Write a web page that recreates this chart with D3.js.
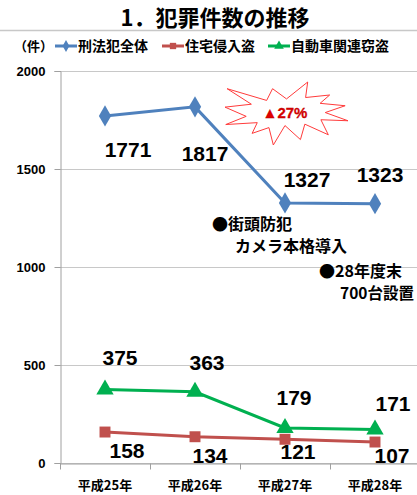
<!DOCTYPE html>
<html>
<head>
<meta charset="utf-8">
<script src="https://cdn.jsdelivr.net/npm/d3@7"></script>
<style>
  body { margin: 0; background: #fff; }
  svg { display: block; }
  text { font-family: "Noto Sans CJK JP", sans-serif; font-weight: bold; }
  .num { font-family: "Liberation Sans", Arial, sans-serif; font-weight: bold; }
</style>
</head>
<body>
<div id="chart"></div>
<script>
const years = ["平成25年", "平成26年", "平成27年", "平成28年"];
const seriesNames = ["刑法犯全体", "住宅侵入盗", "自動車関連窃盗"];
const totalCrime = [1771, 1817, 1327, 1323];
const burglary = [158, 134, 121, 107];
const carTheft = [375, 363, 179, 171];
const yTicks = [0, 500, 1000, 1500, 2000];

const size = { width: 417, height: 495, left: 60, right: 420, top: 71, bottom: 463 };

const colours = { blue: "#4F81BD", red: "#C0504D", green: "#00B050" };

// label offsets from each point (centre x, baseline y)
const labelOffsets = {
  total: [[23, 41], [10, 54], [22, -16], [5, -22]],
  burglary: [[22, 26], [15, 26], [13, 20], [17, 21]],
  car: [[15, -25], [12, -22], [9, -23], [18, -18]]
};

const x = d3.scaleBand().domain(years).range([size.left, size.right]);
const y = d3.scaleLinear().domain([0, 2000]).range([size.bottom, size.top]);
const cx = d => x(d) + x.bandwidth() / 2;

const svg = d3.select("#chart").append("svg")
  .attr("width", size.width)
  .attr("height", size.height);

// title
svg.append("text")
  .attr("x", 215).attr("y", 26)
  .attr("text-anchor", "middle")
  .style("font-size", "22px")
  .text("1．犯罪件数の推移");
svg.append("line")
  .attr("x1", 0).attr("x2", size.width)
  .attr("y1", 30.5).attr("y2", 30.5)
  .attr("stroke", "#c8c8c8").attr("stroke-width", 1.5);

// gridlines
svg.append("g").selectAll("line").data(yTicks).join("line")
  .attr("x1", size.left).attr("x2", size.width)
  .attr("y1", d => Math.round(y(d)) + 0.5).attr("y2", d => Math.round(y(d)) + 0.5)
  .attr("stroke", "#c8c8c8");

// y axis
const yAxis = svg.append("g")
  .attr("transform", `translate(${size.left + 0.5},0)`)
  .call(d3.axisLeft(y).tickValues(yTicks).tickSize(6).tickPadding(9).tickFormat(d3.format("d")));
yAxis.select(".domain").attr("stroke", "#a0a0a0");
yAxis.selectAll(".tick line").attr("stroke", "#a0a0a0");
yAxis.selectAll("text").attr("class", "num").style("font-size", "13px").attr("fill", "#000");

// x axis
const xAxis = svg.append("g")
  .attr("transform", `translate(0,${Math.round(size.bottom) + 0.5})`)
  .call(d3.axisBottom(x).tickSize(0).tickPadding(17));
xAxis.select(".domain").attr("stroke", "#a0a0a0");
xAxis.selectAll("text").style("font-size", "13px").attr("fill", "#000");
xAxis.selectAll("line.edge").data(years.map(d => x(d)).concat([size.right])).join("line")
  .attr("class", "edge")
  .attr("x1", d => d + 0.5).attr("x2", d => d + 0.5)
  .attr("y1", 0).attr("y2", 6)
  .attr("stroke", "#a0a0a0");

// legend
svg.append("text").attr("x", 14).attr("y", 51).style("font-size", "13px").text("（件）");
const legendItems = [
  { name: seriesNames[0], colour: colours.blue, shape: d3.symbolDiamond, x: 55 },
  { name: seriesNames[1], colour: colours.red, shape: d3.symbolSquare, x: 162 },
  { name: seriesNames[2], colour: colours.green, shape: d3.symbolTriangle, x: 268 }
];
const lg = svg.append("g").selectAll("g").data(legendItems).join("g")
  .attr("transform", d => `translate(${d.x},46)`);
lg.append("line").attr("x1", 0).attr("x2", 22)
  .attr("stroke", d => d.colour).attr("stroke-width", 3);
lg.append("path").attr("transform", "translate(11,0)")
  .attr("d", d => d3.symbol(d.shape, 40)())
  .attr("fill", d => d.colour);
lg.append("text").attr("x", 23).attr("y", 5).style("font-size", "14px").text(d => d.name);

// starburst (Excel "explosion" shape)
const sealPts = [[10800,5800],[14522,0],[14155,5325],[18380,4457],[16702,7315],[21097,8137],[17607,10475],[21600,13290],[16837,12942],[18145,18095],[14020,14457],[13247,19737],[10532,14935],[8485,21600],[7715,15627],[4762,17617],[5667,13937],[135,14587],[3722,11775],[0,8615],[4627,7617],[370,2295],[7312,6320],[8352,2295]];
const sx = d3.scaleLinear().domain([0, 21600]).range([225, 348]);
const sy = d3.scaleLinear().domain([0, 21600]).range([82, 145]);
svg.append("path")
  .attr("d", d3.line().x(p => sx(p[0])).y(p => sy(p[1])).curve(d3.curveLinearClosed)(sealPts))
  .attr("fill", "#fff").attr("stroke", "#FF3B3B").attr("stroke-width", 1);
svg.append("text").attr("x", 285).attr("y", 118).attr("text-anchor", "middle")
  .attr("class", "num").style("font-size", "15px")
  .attr("fill", "#E00000").attr("stroke", "#B00000").attr("stroke-width", 0.3)
  .text("▲27%");

// series
const series = [
  { values: totalCrime, colour: colours.blue, shape: d3.symbolDiamond, area: 130, offsets: labelOffsets.total },
  { values: burglary, colour: colours.red, shape: d3.symbolSquare, area: 120, offsets: labelOffsets.burglary },
  { values: carTheft, colour: colours.green, shape: d3.symbolTriangle, area: 130, offsets: labelOffsets.car }
];

series.forEach(s => {
  const pts = years.map((yr, i) => [cx(yr), y(s.values[i])]);
  svg.append("path")
    .attr("d", d3.line()(pts))
    .attr("fill", "none").attr("stroke", s.colour).attr("stroke-width", 3);
  svg.append("g").selectAll("path").data(pts).join("path")
    .attr("transform", p => `translate(${p[0]},${p[1]})`)
    .attr("d", d3.symbol(s.shape, s.area)())
    .attr("fill", s.colour);
});

series.forEach(s => {
  svg.append("g").selectAll("text").data(years).join("text")
    .attr("class", "num")
    .attr("x", (yr, i) => cx(yr) + s.offsets[i][0])
    .attr("y", (yr, i) => y(s.values[i]) + s.offsets[i][1])
    .attr("text-anchor", "middle")
    .style("font-size", "21px")
    .text((yr, i) => s.values[i]);
});

// notes
const notes = [
  { text: "●街頭防犯", x: 212, y: 230, size: 16 },
  { text: "カメラ本格導入", x: 235, y: 252, size: 16 },
  { text: "●28年度末", x: 319, y: 277, size: 16 },
  { text: "700台設置", x: 340, y: 299, size: 15.5 }
];
svg.append("g").selectAll("text").data(notes).join("text")
  .attr("x", d => d.x).attr("y", d => d.y)
  .style("font-size", d => d.size + "px")
  .text(d => d.text);
</script>
</body>
</html>
